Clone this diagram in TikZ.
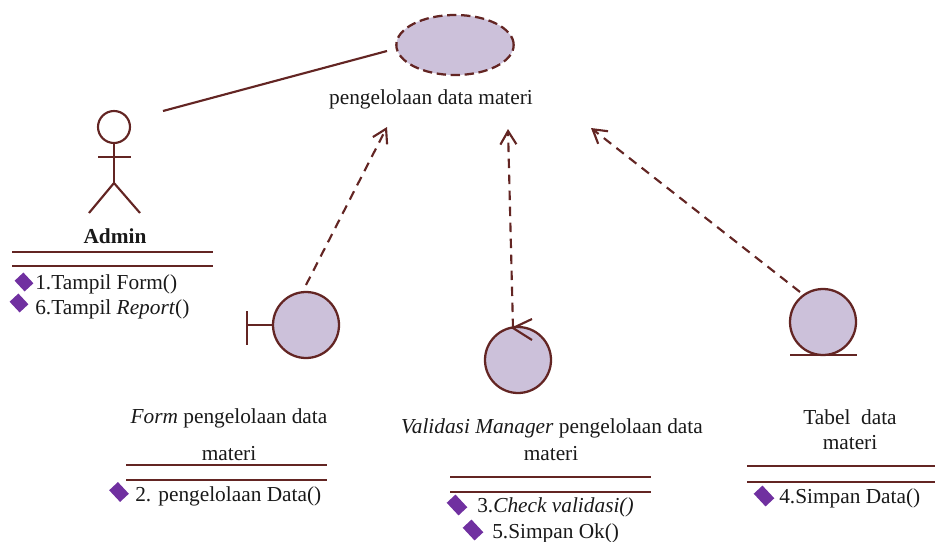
\documentclass[tikz,border=0pt]{standalone}
\usepackage{fontspec}
\setmainfont{Liberation Serif}
\usetikzlibrary{shapes,arrows.meta}
\definecolor{umlline}{HTML}{632523}
\definecolor{umlfill}{HTML}{CCC1DA}
\definecolor{umlmark}{HTML}{7030A0}
\tikzset{
  objcircle/.style={circle, draw=umlline, fill=umlfill, line width=1.7pt, minimum size=49.5pt, inner sep=0pt},
  umlstroke/.style={draw=umlline, line width=1.6pt},
  umldep/.style={umlstroke, dashed, dash pattern=on 7pt off 5pt, -{Straight Barb[length=10pt,width=12pt]}},
  umltext/.style={font=\fontsize{16pt}{18pt}\selectfont, text=black!90, inner sep=0pt, align=center},
}
\newcommand{\umlobject}[2] {\node at (#1) (#2) [objcircle] {};}
\newcommand{\umllabel}[3] {\node at (#1) (#2) [umltext] {#3};}
\newcommand{\umlrules}[4] {\draw [umlstroke] (#1,#3) -- (#2,#3); \draw [umlstroke] (#1,#4) -- (#2,#4);}
\newcommand{\umlmessage}[3] {\node at (#1) (#2) [fill=umlmark, minimum width=#3, minimum height=9pt, inner sep=0pt, rotate=-47] {};}

\begin{document}
\begin{tikzpicture}[x=0.75pt, y=-0.75pt]
\useasboundingbox (0,0) rectangle (935,542);

% use case
\node at (455,45) (usecase) [ellipse, draw=umlline, fill=umlfill, line width=1.7pt, dashed, dash pattern=on 7pt off 3.5pt, minimum width=88pt, minimum height=45pt, inner sep=0pt] {};
\umllabel {431,99}{usecase-name}{pengelolaan data materi};

% actor
\node at (114,127) (head) [circle, draw=umlline, line width=1.6pt, minimum size=24pt, inner sep=0pt] {};
\coordinate (hip) at (114,183);
\coordinate (arml) at (98,157);
\coordinate (armr) at (131,157);
\coordinate (footl) at (89,213);
\coordinate (footr) at (140,213);
\draw [umlstroke] (head) -- (hip);
\draw [umlstroke] (arml) -- (armr);
\draw [umlstroke] (footl) -- (hip) -- (footr);
\umllabel {115,236}{admin}{\textbf{Admin}};
\umlrules {12}{213}{252}{266};
\umlmessage {24,282}{msgone}{11pt};
\umlmessage {19,303}{msgsix}{11pt};
\node at (35,284) (txtone) [umltext, anchor=west] {1.Tampil Form()};
\node at (35,309) (txtsix) [umltext, anchor=west] {6.Tampil \textit{Report}()};

% boundary
\umlobject {306,325}{form};
\coordinate (barmid) at (247,325);
\coordinate (bartop) at (247,311);
\coordinate (barbot) at (247,345);
\draw [umlstroke] (bartop) -- (barbot);
\draw [umlstroke] (barmid) -- (form);
\umllabel {229,418}{formtop}{\textit{Form} pengelolaan data};
\umllabel {229,454}{formbot}{materi};
\umlrules {126}{327}{465}{480};
\umlmessage {119,492}{msgtwo}{12pt};
\node at (135,496) (txttwo) [umltext, anchor=west] {2. pengelolaan Data()};

% control
\umlobject {518,360}{control};
\coordinate (ctlhead) at (513,328);
\coordinate (ctlup) at (532,319);
\coordinate (ctldown) at (532,340);
\draw [umlstroke] (ctlup) -- (ctlhead) -- (ctldown);
\umllabel {552,428}{ctltop}{\textit{Validasi Manager} pengelolaan data};
\umllabel {551,454}{ctlbot}{materi};
\umlrules {450}{651}{477}{492};
\umlmessage {457,505}{msgthree}{13pt};
\umlmessage {473,530}{msgfive}{13pt};
\node at (477,507) (txtthree) [umltext, anchor=west] {3.\textit{Check validasi()}};
\node at (492,533) (txtfive) [umltext, anchor=west] {5.Simpan Ok()};

% entity
\umlobject {823,322}{entity};
\coordinate (entl) at (790,355);
\coordinate (entr) at (857,355);
\draw [umlstroke] (entl) -- (entr);
\umllabel {850,417}{enttop}{Tabel\ \ data};
\umllabel {850,443}{entbot}{materi};
\umlrules {747}{935}{466}{482};
\umlmessage {764,496}{msgfour}{13pt};
\node at (779,498) (txtfour) [umltext, anchor=west] {4.Simpan Data()};

% links
\coordinate (assocfrom) at (163,111);
\coordinate (assocto) at (387,51);
\coordinate (formfrom) at (306,285);
\coordinate (formto) at (387,127);
\coordinate (ctlto) at (508,129);
\coordinate (entfrom) at (800,292);
\coordinate (entto) at (591,128);
\draw [umlstroke] (assocfrom) -- (assocto);
\draw [umldep] (formfrom) -- (formto);
\draw [umldep] (ctlhead) -- (ctlto);
\draw [umldep] (entfrom) -- (entto);

\end{tikzpicture}
\end{document}
